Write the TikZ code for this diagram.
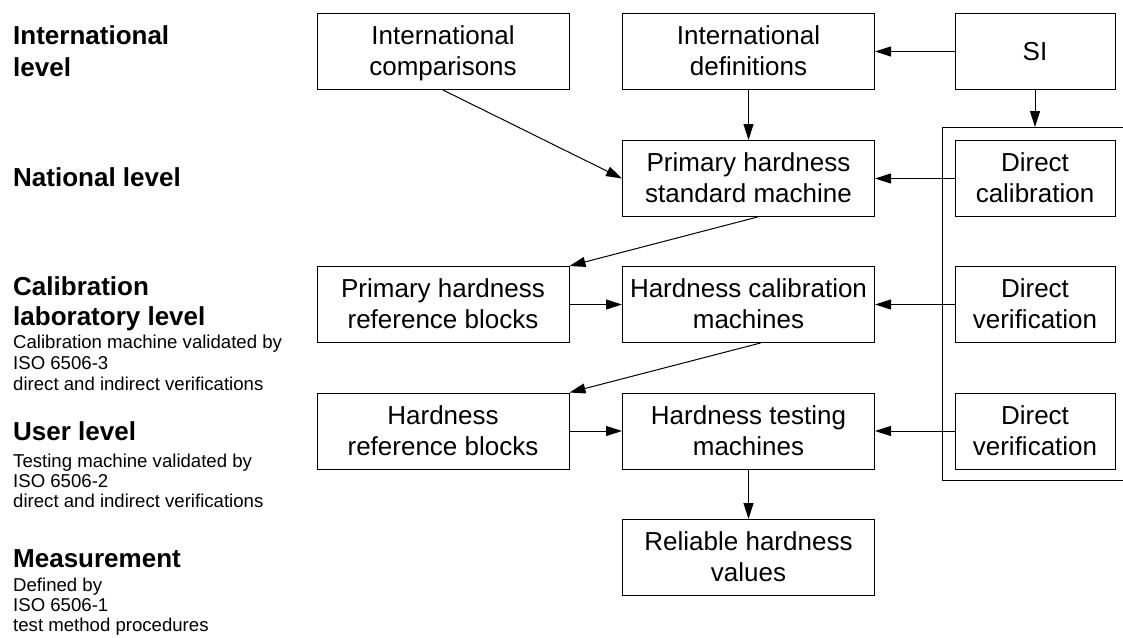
\documentclass[tikz,border=0pt]{standalone}
\usepackage{fontspec}
\setmainfont{Liberation Sans}
\usetikzlibrary{arrows.meta,calc}
\newcommand{\lnstrut}{\rule[-5pt]{0pt}{27pt}}
\tikzset{
  box/.style={draw, line width=1pt, minimum width=252pt, minimum height=76pt, inner sep=0pt,
    align=center, font=\fontsize{26}{31}\selectfont},
  sbox/.style={box, minimum width=160pt},
  arr/.style={line width=1pt, -{Triangle[length=16pt,width=10pt]}},
  plain/.style={line width=1pt},
  lvl/.style={anchor=base west, inner sep=0pt, font=\fontsize{26}{31}\selectfont\bfseries},
  lsub/.style={anchor=base west, inner sep=0pt, font=\fontsize{18.6}{21}\selectfont}
}
\begin{document}
\begin{tikzpicture}[x=1pt,y=-1pt]
\useasboundingbox (0,0) rectangle (1123,637);
% boxes
\node[box] (ic) at (443,51.5) {\lnstrut International\\\lnstrut comparisons};
\node[box] (id) at (748.5,51.5) {\lnstrut International\\\lnstrut definitions};
\node[sbox] (si) at (1035,51.5) {SI};
\node[box] (ps) at (748.5,178.5) {\lnstrut Primary hardness\\\lnstrut standard machine};
\node[sbox] (dc) at (1035,178.5) {\lnstrut Direct\\\lnstrut calibration};
\node[box] (prb) at (443,304.5) {\lnstrut Primary hardness\\\lnstrut reference blocks};
\node[box] (hcm) at (748.5,304.5) {\lnstrut Hardness calibration\\\lnstrut machines};
\node[sbox] (dv1) at (1035,304.5) {\lnstrut Direct\\\lnstrut verification};
\node[box] (hrb) at (443,431) {\lnstrut Hardness\\\lnstrut reference blocks};
\node[box] (htm) at (748.5,431) {\lnstrut Hardness testing\\\lnstrut machines};
\node[sbox] (dv2) at (1035,431) {\lnstrut Direct\\\lnstrut verification};
\node[box] (rhv) at (748.5,557.5) {\lnstrut Reliable hardness\\\lnstrut values};
% bracket
\coordinate (brTR) at (1123,127);
\coordinate (brTL) at (942,127);
\coordinate (brBL) at (942,480);
\coordinate (brBR) at (1123,480);
\draw[plain] (brTR) -- (brTL) -- (brBL) -- (brBR);
% connectors
\draw[arr] (si.west) -- (id.east);
\draw[arr] (si.south) -- (si.south |- brTL);
\draw[arr] (id.south) -- (ps.north);
\draw[arr] (ic.south) -- (ps.west);
\draw[arr] (dc.west) -- (ps.east);
\draw[arr] ($(ps.south)+(9,0)$) -- (prb.north east);
\draw[arr] (prb.east) -- (hcm.west);
\draw[arr] (dv1.west) -- (hcm.east);
\draw[arr] ($(hcm.south)+(12,0)$) -- (hrb.north east);
\draw[arr] (hrb.east) -- (htm.west);
\draw[arr] (dv2.west) -- (htm.east);
\draw[arr] (htm.south) -- (rhv.north);
% level labels
\node[lvl] (l1a) at (13,44) {International};
\node[lvl] (l1b) at (13,76) {level};
\node[lvl] (l2) at (13,186) {National level};
\node[lvl] (l3a) at (13,295) {Calibration};
\node[lvl] (l3b) at (13,325) {laboratory level};
\node[lsub] (l3c) at (13,348) {Calibration machine validated by};
\node[lsub] (l3d) at (13,369) {ISO 6506-3};
\node[lsub] (l3e) at (13,390) {direct and indirect verifications};
\node[lvl] (l4a) at (13,440) {User level};
\node[lsub] (l4b) at (13,467) {Testing machine validated by};
\node[lsub] (l4c) at (13,487) {ISO 6506-2};
\node[lsub] (l4d) at (13,507) {direct and indirect verifications};
\node[lvl] (l5a) at (13,567) {Measurement};
\node[lsub] (l5b) at (13,591) {Defined by};
\node[lsub] (l5c) at (13,611) {ISO 6506-1};
\node[lsub] (l5d) at (13,631) {test method procedures};
\end{tikzpicture}
\end{document}
